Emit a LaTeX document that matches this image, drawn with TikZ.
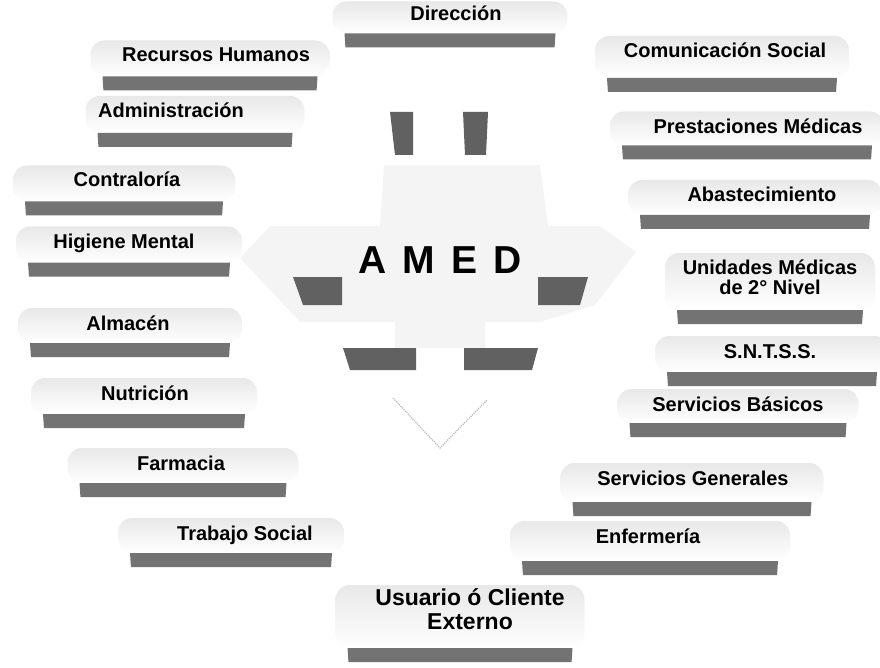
\documentclass[tikz,border=0pt]{standalone}
\usepackage{fontspec}
\setmainfont{Liberation Sans}
\usetikzlibrary{shapes, positioning}

\begin{document}
\begin{tikzpicture}[x=1pt, y=1pt]
        \tikzstyle{every node}=[align=center, font=\fontsize{20}{17}\selectfont\bfseries]
        \tikzstyle{cara}=[rounded corners=14pt, top color=gray!18, bottom color=white, inner sep=0pt]
        \tikzstyle{barra}=[trapezium, shape border rotate=180, trapezium angle=65, trapezium stretches body=true, fill=black!55, minimum height=14pt, inner sep=1pt]
        \tikzstyle{pieza}=[fill=black!62]
        \useasboundingbox (0,0) rectangle (880,-668);

        % big arrow in the middle
        \fill[gray!9] (240,-258) -- (270,-226) -- (380,-226) -- (384,-165) -- (540,-165) -- (548,-226) -- (600,-226) -- (636,-252) -- (595,-305) -- (540,-322) -- (485,-322) -- (485,-348) -- (395,-348) -- (395,-322) -- (300,-322) -- cycle;
        \fill[pieza] (390,-112) -- (413,-112) -- (413,-155) -- (395,-155) -- cycle;
        \fill[pieza] (463,-112) -- (488,-112) -- (486,-155) -- (465,-155) -- cycle;
        \fill[pieza] (293,-277) -- (342,-277) -- (342,-305) -- (303,-305) -- cycle;
        \fill[pieza] (538,-277) -- (588,-277) -- (580,-305) -- (538,-305) -- cycle;
        \fill[pieza] (343,-348) -- (416,-348) -- (416,-370) -- (350,-370) -- cycle;
        \fill[pieza] (464,-348) -- (538,-348) -- (532,-370) -- (464,-370) -- cycle;
        \draw[gray!55, densely dotted, very thick] (393,-398) -- (440,-448) -- (487,-400);
        \node[anchor=base, font=\fontsize{39}{40}\selectfont\bfseries] at (440,-273) (amed) {\spaceskip=16pt A M E D};

        % x / bar y / bar width / face height
        \foreach \x/\yb/\w/\h [count=\i] in {450/40.5/211/32, 210/83.5/215/36, 195/140/195/37,
                124/208.5/198/36, 129/269.5/202/36, 130/350/200/35, 144/421/202/36,
                183/490/207/35, 231/560/202/35, 722/85/230/42, 747/152.5/250/34,
                755/222/230/35, 770/317/186/57, 772/379/210/36, 738/430/217/34,
                692/509/239/39, 650/568/256/40, 460/655/225/63}
        {
                \node[cara, minimum width=\w pt+24pt, minimum height=\h pt] at (\x,-\yb+7+\h/2) (cara\i) {};
                \node[barra, minimum width=\w pt] at (\x,-\yb) (barra\i) {};
        }

        \node[anchor=base] at (456,-21) (direccion) {Dirección};
        \node[anchor=base] at (216,-62) (rrhh) {Recursos Humanos};
        \node[anchor=base] at (171,-118) (admin) {Administración};
        \node[anchor=base] at (127,-187) (contra) {Contraloría};
        \node[anchor=base] at (124,-249) (higiene) {Higiene Mental};
        \node[anchor=base] at (128,-330) (almacen) {Almacén};
        \node[anchor=base] at (145,-400) (nutri) {Nutrición};
        \node[anchor=base] at (181,-470) (farma) {Farmacia};
        \node[anchor=base] at (245,-540) (trabajo) {Trabajo Social};

        \node[anchor=base] at (725,-58) (comu) {Comunicación Social};
        \node[anchor=base] at (758,-134) (presta) {Prestaciones Médicas};
        \node[anchor=base] at (762,-202) (abasto) {Abastecimiento};
        \node[anchor=base] at (770,-294) (unidades) {Unidades Médicas\\[3pt]de 2° Nivel};
        \node[anchor=base] at (770,-358) (sntss) {S.N.T.S.S.};
        \node[anchor=base] at (738,-411) (basicos) {Servicios Básicos};
        \node[anchor=base] at (693,-485) (generales) {Servicios Generales};
        \node[anchor=base] at (648,-543) (enfer) {Enfermería};

        \node[anchor=base, font=\fontsize{23}{16}\selectfont\bfseries] at (470,-629) (usuario) {Usuario ó Cliente\\[6pt]Externo};
\end{tikzpicture}
\end{document}
